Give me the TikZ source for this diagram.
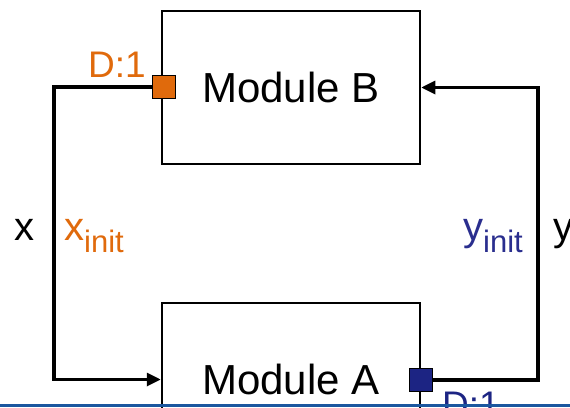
\documentclass[tikz,border=0pt]{standalone}
\usepackage{fontspec}
\setmainfont{Liberation Sans}
\usetikzlibrary{arrows.meta}
\definecolor{delayorange}{HTML}{E06A0C}
\definecolor{delayblue}{HTML}{1C2483}
\definecolor{initblue}{HTML}{2A2E8E}
\definecolor{barblue}{HTML}{1B579F}
\tikzset{
  module/.style={draw,line width=2.5pt,minimum width=258pt,minimum height=153pt,inner sep=0pt,
    font=\fontsize{42}{48}\selectfont},
  port/.style={draw,line width=1.5pt,minimum size=23pt,inner sep=0pt},
  wire/.style={line width=3.2pt},
  lbl/.style={inner sep=0pt,font=\fontsize{40}{46}\selectfont}
}
\newcommand{\initsub}{\raisebox{-0.3em}{\fontsize{31}{34}\selectfont init}}
\begin{document}
\begin{tikzpicture}[x=1pt,y=-1pt]
\useasboundingbox (0,0) rectangle (570,407);
\clip (0,0) rectangle (570,407);
\node[module] (modB) at (291,87.5) {Module B};
\node[module] (modA) at (291,379.5) {Module A};
\node[port,fill=delayorange] (portB) at (164,87) {};
\node[port,fill=delayblue] (portA) at (421,380) {};
\coordinate (leftx) at (54,0);
\coordinate (rightx) at (538,0);
% feedback wires
\draw[wire,-{Triangle[length=14pt,width=13pt]}] (portB.west) -- (portB.west -| leftx) |- (modA.west);
\draw[wire,-{Triangle[length=14pt,width=13pt]}] (portA.east) -- (portA.east -| rightx) |- (modB.east);
% labels
\node[lbl,anchor=base east,text=delayorange,font=\fontsize{37}{42}\selectfont] (dB) at (146,77) {D:1};
\node[lbl,anchor=base west,text=delayblue,font=\fontsize{37}{42}\selectfont] (dA) at (442,417) {D:1};
\node[lbl,anchor=base] (xl) at (24,240) {x};
\node[lbl,anchor=base west,text=delayorange] (xi) at (64,240) {x\initsub};
\node[lbl,anchor=base east,text=initblue] (yi) at (523,240) {y\initsub};
\node[lbl,anchor=base west] (yl) at (553,240) {y};
\fill[barblue] (0,403.5) rectangle (570,407);
\end{tikzpicture}
\end{document}
